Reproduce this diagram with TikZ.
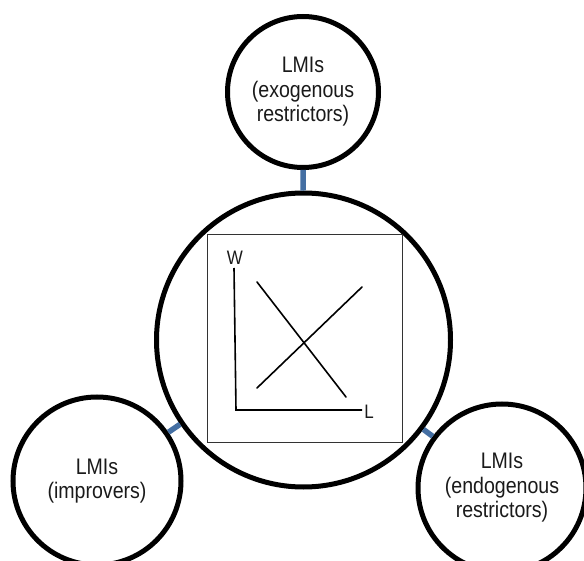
\documentclass[tikz,border=0pt]{standalone}
\usepackage{fontspec}
\setmainfont{Liberation Sans}
% slightly condensed sans for all labels
\newfontfamily\labelfont[FakeStretch=0.87]{Liberation Sans}
\definecolor{linkblue}{RGB}{68,111,163}
\definecolor{ink}{RGB}{26,26,26}
\begin{document}
\begin{tikzpicture}[x=1pt,y=-1pt,
  ring/.style={circle,draw=black,line width=5pt,inner sep=0pt,align=center,
    text=ink,font=\labelfont\fontsize{22.5}{24.5}\selectfont},
  link/.style={draw=linkblue,line width=5.5pt},
  frame/.style={draw=black!80,line width=1pt,inner sep=0pt},
  curve/.style={line width=1.6pt,line cap=round},
  axislabel/.style={text=ink,inner sep=0pt,font=\labelfont\fontsize{19.5}{22}\selectfont}]
\useasboundingbox (0,0) rectangle (584,561);
\clip (0,0) rectangle (584,561);

% central market and the three satellite groups
\node[ring,minimum size=294pt] (market) at (303.5,340) {};
\node[ring,minimum size=151pt] (exo) at (303,92) {LMIs\\(exogenous\\restrictors)};
\node[ring,minimum size=168pt] (impr) at (97,481) {LMIs\\(improvers)};
\node[ring,minimum size=168pt] (endo) at (502,488) {LMIs\\(endogenous\\restrictors)};

% links between the satellites and the market
\draw[link] (exo) -- (market);
\draw[link] (impr) -- (market);
\draw[link] (endo) -- (market);

% labour market chart
\node[frame,minimum width=195pt,minimum height=207pt] (chart) at (304.5,338.5) {};
\coordinate (wtop) at (234,268);
\coordinate (origin) at (236,410);
\coordinate (lend) at (362,410);
\draw[curve,line cap=butt] (wtop) -- (origin) -- (lend);
\node[axislabel] (wlab) at (235,258) {W};
\node[axislabel] (llab) at (369,412) {L};

\coordinate (dstart) at (257,282);
\coordinate (dend) at (346,397);
\coordinate (sstart) at (257,388);
\coordinate (send) at (362,287);
\draw[curve] (dstart) -- (dend);
\draw[curve] (sstart) -- (send);
\end{tikzpicture}
\end{document}
